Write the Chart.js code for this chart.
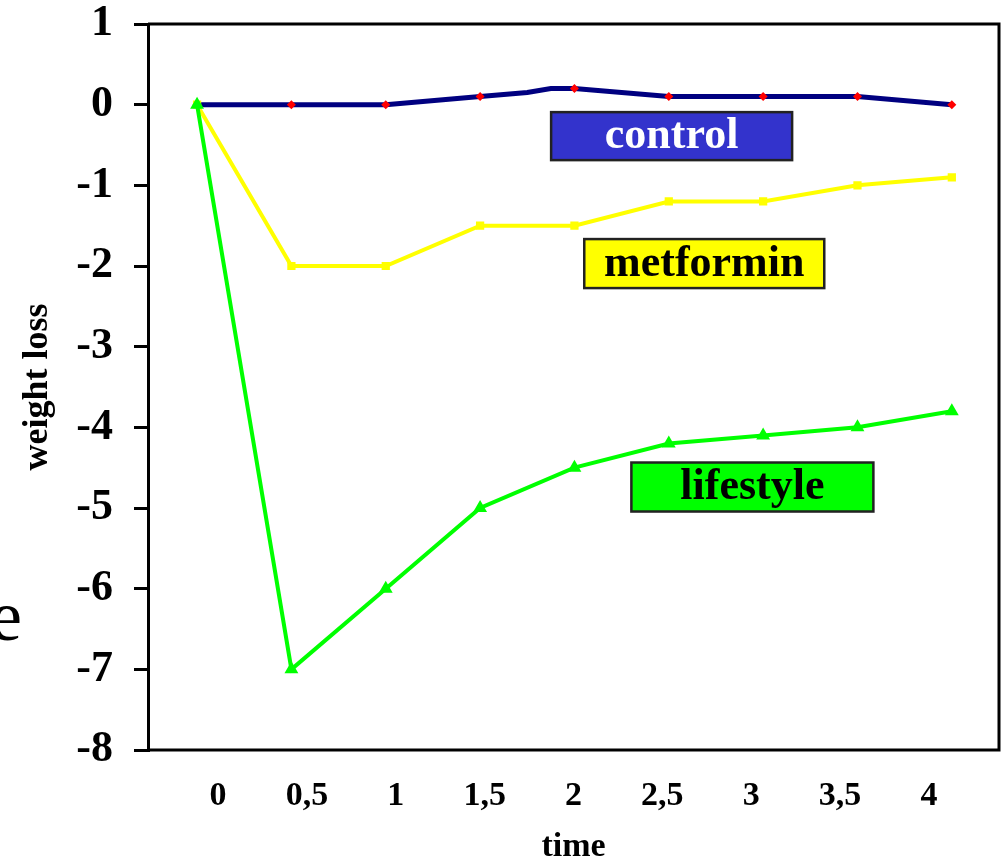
<!DOCTYPE html>
<html>
<head>
<meta charset="utf-8">
<script src="https://cdn.jsdelivr.net/npm/chart.js@4/dist/chart.umd.min.js"></script>
<style>
html,body{margin:0;padding:0;background:#fff;}
#wrap{width:1002px;height:863px;position:relative;}
</style>
</head>
<body>
<div id="wrap"><canvas id="c" width="1002" height="863"></canvas></div>
<script>
// ---- data ----
const tickLabels = ['0','0,5','1','1,5','2','2,5','3','3,5','4'];
const times = [0, 0.5, 1, 1.5, 2, 2.5, 3, 3.5, 4];
const controlTimes = [0, 0.5, 1, 1.5, 1.75, 1.875, 2, 2.5, 3, 3.5, 4];
const controlValues = [0, 0, 0, 0.1, 0.15, 0.2, 0.2, 0.1, 0.1, 0.1, 0];
const metforminValues = [0, -2, -2, -1.5, -1.5, -1.2, -1.2, -1.0, -0.9];
const lifestyleValues = [0, -7, -6, -5, -4.5, -4.2, -4.1, -4.0, -3.8];
const seriesNames = ['control', 'metformin', 'lifestyle'];

const SERIF = '"Liberation Serif", "Times New Roman", serif';

function pts(xs, ys){ return xs.map((x,i)=>({x:x, y:ys[i]})); }

// label boxes (anchored in data units)
const labelBoxes = [
  {text: seriesNames[0], x: 2.515, y: -0.39, w: 241, h: 48, fill: '#3333CC', color: '#ffffff'},
  {text: seriesNames[1], x: 2.688, y: -1.97, w: 240, h: 49, fill: '#FFFF00', color: '#000000'},
  {text: seriesNames[2], x: 2.943, y: -4.74, w: 242, h: 49, fill: '#00FF00', color: '#000000'}
];

const framePlugin = {
  id: 'frame',
  afterDraw(chart){
    const ctx = chart.ctx, a = chart.chartArea;
    ctx.save();
    ctx.strokeStyle = '#000';
    ctx.lineWidth = 3;
    ctx.beginPath();
    ctx.moveTo(a.left, a.top); ctx.lineTo(a.right, a.top);
    ctx.lineTo(a.right, a.bottom); ctx.lineTo(a.left, a.bottom);
    ctx.stroke();
    // label boxes
    const xs = chart.scales.x, ys = chart.scales.y;
    labelBoxes.forEach(b=>{
      const cx = xs.getPixelForValue(b.x), cy = ys.getPixelForValue(b.y);
      const l = cx - b.w/2, t = cy - b.h/2;
      ctx.fillStyle = b.fill;
      ctx.fillRect(l, t, b.w, b.h);
      ctx.strokeStyle = '#222';
      ctx.lineWidth = 2.5;
      ctx.strokeRect(l, t, b.w, b.h);
      ctx.fillStyle = b.color;
      ctx.font = 'bold 44px ' + SERIF;
      ctx.textAlign = 'center';
      ctx.textBaseline = 'middle';
      ctx.fillText(b.text, cx, cy + 1);
    });
    // stray slide letter on the left
    ctx.fillStyle = '#000';
    ctx.font = '72px ' + SERIF;
    ctx.textAlign = 'left';
    ctx.textBaseline = 'alphabetic';
    ctx.fillText('e', -10, 640);
    ctx.restore();
  }
};

new Chart(document.getElementById('c'), {
  type: 'line',
  data: {
    datasets: [
      {
        label: seriesNames[0],
        data: pts(controlTimes, controlValues),
        borderColor: '#000080',
        borderWidth: 5,
        pointStyle: 'rectRot',
        pointRadius: ctx => (ctx.raw && (ctx.raw.x * 2) % 1 === 0) ? 4.5 : 0,
        pointBackgroundColor: '#ff0000',
        pointBorderColor: '#ff0000',
        pointBorderWidth: 0,
        tension: 0,
        order: 3
      },
      {
        label: seriesNames[1],
        data: pts(times, metforminValues),
        borderColor: '#FFFF00',
        borderWidth: 4,
        pointStyle: 'rect',
        pointRadius: 3,
        pointBackgroundColor: '#FFFF00',
        pointBorderColor: '#FFFF00',
        tension: 0,
        order: 2
      },
      {
        label: seriesNames[2],
        data: pts(times, lifestyleValues),
        borderColor: '#00FF00',
        borderWidth: 4,
        pointStyle: 'triangle',
        pointRadius: 4,
        pointBackgroundColor: '#00FF00',
        pointBorderColor: '#00FF00',
        tension: 0,
        order: 1
      }
    ]
  },
  options: {
    responsive: false,
    animation: false,
    layout: { autoPadding: false, padding: { top: 24, right: 3, left: 0, bottom: 0 } },
    plugins: { legend: { display: false }, tooltip: { enabled: false } },
    scales: {
      x: {
        type: 'linear',
        min: -0.26,
        max: 4.25,
        display: false
      },
      xt: {
        type: 'linear',
        position: 'bottom',
        min: -0.394,
        max: 4.394,
        grid: { display: false, drawTicks: false },
        border: { display: false },
        ticks: {
          stepSize: 0.5,
          includeBounds: false,
          autoSkip: false,
          maxRotation: 0,
          padding: 26,
          color: '#000',
          font: { family: SERIF, size: 34, weight: 'bold' },
          callback: (v) => {
            const i = times.indexOf(Math.round(v * 2) / 2);
            return i >= 0 ? tickLabels[i] : '';
          }
        },
        title: {
          display: true,
          text: 'time',
          color: '#000',
          font: { family: SERIF, size: 34, weight: 'bold', lineHeight: 0.9 },
          padding: { top: 8, bottom: 0 }
        },
        afterFit: s => { s.height = 113; s.paddingLeft = 0; s.paddingRight = 0; }
      },
      y: {
        type: 'linear',
        min: -8,
        max: 1,
        grid: { drawOnChartArea: false, drawTicks: true, tickLength: 14, color: '#000', lineWidth: 3 },
        border: { display: true, color: '#000', width: 3 },
        ticks: {
          stepSize: 1,
          padding: 21,
          color: '#000',
          font: { family: SERIF, size: 44, weight: 'bold' }
        },
        title: {
          display: true,
          text: 'weight loss',
          color: '#000',
          font: { family: SERIF, size: 36, weight: 'bold' },
          padding: { top: 16, bottom: 0 }
        },
        afterFit: s => { s.width = 148; s.paddingTop = 0; s.paddingBottom = 0; }
      }
    }
  },
  plugins: [framePlugin]
});
</script>
</body>
</html>
